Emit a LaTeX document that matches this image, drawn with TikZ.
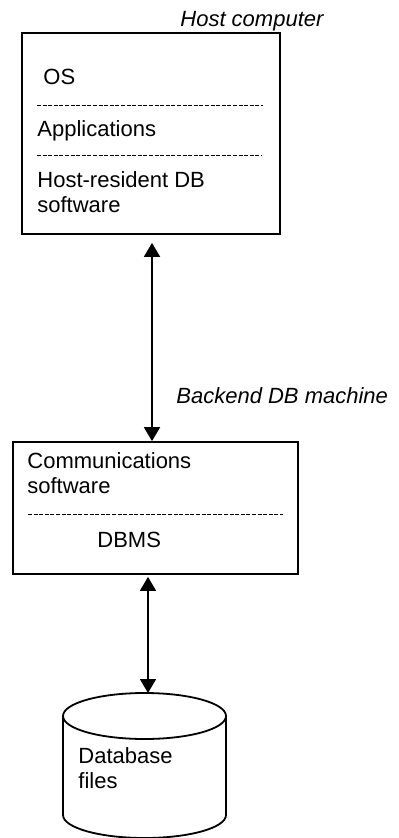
\documentclass[tikz,border=0pt]{standalone}
\usepackage{fontspec}
\setmainfont{Liberation Sans}
\usetikzlibrary{positioning,arrows.meta}

\begin{document}
\begin{tikzpicture}[x=0.5pt,y=-0.5pt,
		box/.style={draw, line width=0.9pt, inner sep=0pt},
		lbl/.style={anchor=base west, inner sep=0pt, align=left,
			font=\fontsize{11}{12.5}\selectfont},
		tag/.style={lbl, font=\fontsize{11}{12.5}\selectfont\itshape},
		sep/.style={line width=0.5pt, dash pattern=on 2pt off 0.8pt},
		arr/.style={{Triangle[length=7pt,width=8pt]}-{Triangle[length=7pt,width=8pt]}, line width=0.9pt}]
		\useasboundingbox (0,0) rectangle (398,838);
		% host computer
		\node[box, minimum width=129pt, minimum height=100.5pt] (host) at (151,133.5) {};
		\node[tag] (hosttag) at (180,27) {Host computer};
		\node[lbl] (os) at (43,85) {OS};
		\draw[sep] (37,106) -- (263,106);
		\node[lbl] (apps) at (37,137) {Applications};
		\draw[sep] (37,156) -- (262,156);
		\node[lbl] (hostdb) at (37,213) {Host-resident DB\\software};
		% backend machine
		\node[box, minimum width=142.5pt, minimum height=66pt] (backend) at (155.5,508) {};
		\node[tag] (backtag) at (176,403) {Backend DB machine};
		\node[lbl] (comm) at (27,493) {Communications\\software};
		\draw[sep] (28,514) -- (283,514);
		\node[lbl] (dbms) at (97,547) {DBMS};
		% database files
		\draw[line width=0.9pt] (144.5,716) ellipse [x radius=81.5, y radius=23];
		\draw[line width=0.9pt] (63,716) -- (63,815)
			arc[start angle=180, end angle=0, x radius=81.5, y radius=23] -- (226,716);
		\node[lbl] (filestxt) at (78,788) {Database\\files};
		\coordinate (filestop) at (148,693);
		% links
		\coordinate (linkA) at (152,0);
		\coordinate (linkB) at (148,0);
		\draw[arr, shorten <=4pt] (host.south -| linkA) -- (backend.north -| linkA);
		\draw[arr, shorten <=1pt] (backend.south -| linkB) -- (filestop);
	\end{tikzpicture}
\end{document}
